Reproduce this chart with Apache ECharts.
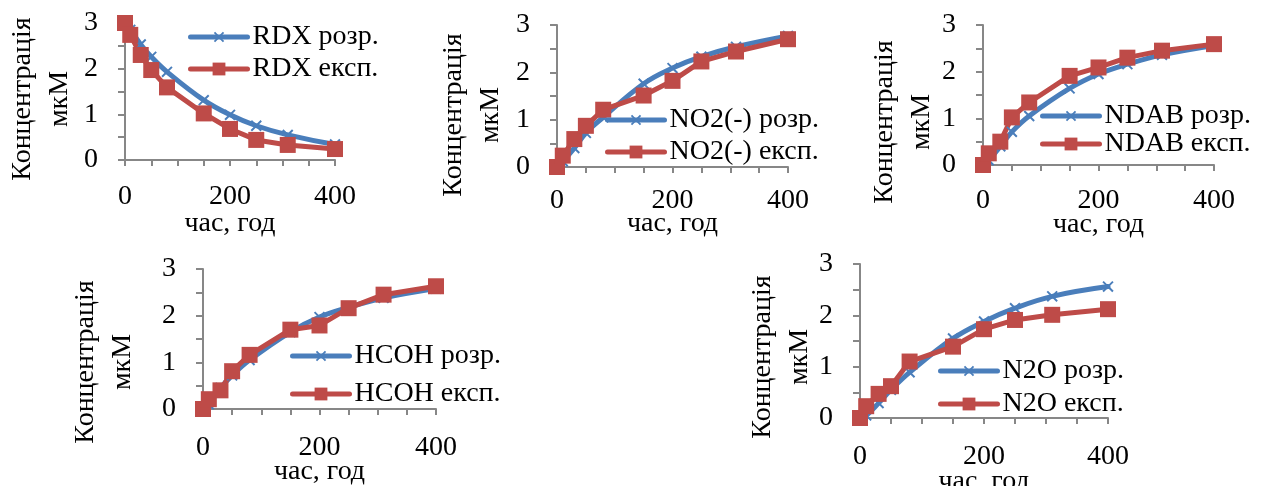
<!DOCTYPE html>
<html>
<head>
<meta charset="utf-8">
<script src="https://cdn.jsdelivr.net/npm/echarts@6/dist/echarts.min.js"></script>
<style>
  html, body { margin: 0; padding: 0; background: #fff; }
  #main { width: 1267px; height: 486px; }
</style>
</head>
<body>
<div id="main"></div>
<script>
// час відбору проб, год (спільний для всіх графіків)
var hours = [0, 10, 30, 50, 80, 150, 200, 250, 310, 400];

// розрахункові та експериментальні концентрації, мкМ
var rdxCalc  = [3.0, 2.85, 2.53, 2.26, 1.93, 1.31, 0.99, 0.75, 0.55, 0.34];
var rdxExp   = [3.0, 2.74, 2.30, 1.97, 1.59, 1.02, 0.68, 0.44, 0.33, 0.24];
var no2Calc  = [0, 0.12, 0.40, 0.72, 1.05, 1.76, 2.09, 2.33, 2.54, 2.77];
var no2Exp   = [0, 0.24, 0.59, 0.87, 1.21, 1.51, 1.82, 2.23, 2.44, 2.70];
var ndabCalc = [0, 0.10, 0.40, 0.71, 1.05, 1.64, 1.95, 2.16, 2.36, 2.56];
var ndabExp  = [0, 0.25, 0.50, 1.02, 1.34, 1.91, 2.09, 2.30, 2.45, 2.59];
var hcohCalc = [0, 0.10, 0.45, 0.72, 1.05, 1.65, 1.97, 2.18, 2.38, 2.58];
var hcohExp  = [0, 0.21, 0.40, 0.81, 1.16, 1.70, 1.79, 2.16, 2.45, 2.63];
var n2oCalc  = [0, 0.05, 0.29, 0.55, 0.89, 1.55, 1.88, 2.14, 2.37, 2.56];
var n2oExp   = [0, 0.23, 0.47, 0.62, 1.10, 1.39, 1.73, 1.91, 2.01, 2.12];

var xTicks = [0, 200, 400];
var yTicks = [0, 1, 2, 3];

var FONT = 'Liberation Serif';
var BLUE = '#4a7ebb';
var RED = '#be4b48';
var AXIS = '#878787';

// розміщення п'яти графіків
var panels = [
  {calc: rdxCalc,  exp: rdxExp,  label: 'RDX',    grid: [125, 23, 210, 137], lab: 23, gap: 50, legend: [188, 23, 4],  yName: [41, 99]},
  {calc: no2Calc,  exp: no2Exp,  label: 'NO2(-)', grid: [557, 25, 231, 142], lab: 20, gap: 43, legend: [605, 106, 4], yName: [472, 115]},
  {calc: ndabCalc, exp: ndabExp, label: 'NDAB',   grid: [983, 25, 231, 140], lab: 22, gap: 46, legend: [1040, 102, 0], yName: [903, 122]},
  {calc: hcohCalc, exp: hcohExp, label: 'HCOH',   grid: [203, 269, 233, 140], lab: 25, gap: 49, legend: [290, 342, 10], yName: [104, 362]},
  {calc: n2oCalc,  exp: n2oExp,  label: 'N2O',    grid: [860, 264, 248, 154], lab: 25, gap: 50, legend: [938, 357, 5], yName: [781, 357]}
];

function pairs(vals) {
  return hours.map(function (h, i) { return [h, vals[i]]; });
}

var crossPath = 'path://M4.3,0H5.7V4.3H10V5.7H5.7V10H4.3V5.7H0V4.3H4.3Z';

var myChart = echarts.init(document.getElementById('main'));

var grids = [], xAxes = [], yAxes = [], series = [], legends = [], graphics = [];

panels.forEach(function (p, i) {
  grids.push({
    left: p.grid[0], top: p.grid[1], width: p.grid[2], height: p.grid[3],
    containLabel: false, outerBoundsMode: 'none'
  });
  xAxes.push({
    gridIndex: i, type: 'value', min: 0, max: 400, interval: 50,
    name: 'час, год', nameLocation: 'middle', nameGap: p.gap, nameMoveOverlap: false,
    nameTextStyle: {fontFamily: FONT, fontSize: 28, color: '#000'},
    axisLine: {onZero: false, lineStyle: {color: AXIS, width: 2}},
    axisTick: {length: 6, lineStyle: {color: AXIS, width: 2}},
    axisLabel: {
      margin: p.lab, fontFamily: FONT, fontSize: 28, color: '#000',
      formatter: function (v) { return xTicks.indexOf(v) >= 0 ? String(v) : ''; }
    },
    splitLine: {show: false}
  });
  yAxes.push({
    gridIndex: i, type: 'value', min: 0, max: 3, interval: 0.5,
    axisLine: {show: true, lineStyle: {color: AXIS, width: 2}},
    axisTick: {show: true, length: 7, lineStyle: {color: AXIS, width: 2}},
    axisLabel: {
      margin: 27, fontFamily: FONT, fontSize: 28, color: '#000',
      formatter: function (v) { return yTicks.indexOf(v) >= 0 ? String(v) : ''; }
    },
    splitLine: {show: false}
  });
  var nCalc = p.label + ' розр.';
  var nExp = p.label + ' експ.';
  series.push({
    name: nCalc, type: 'line', xAxisIndex: i, yAxisIndex: i,
    data: pairs(p.calc), smooth: 0.4,
    symbol: crossPath, symbolSize: 14, symbolRotate: 45,
    lineStyle: {color: BLUE, width: 5, cap: 'round'},
    itemStyle: {color: BLUE},
    emphasis: {disabled: true}
  });
  series.push({
    name: nExp, type: 'line', xAxisIndex: i, yAxisIndex: i,
    data: pairs(p.exp),
    symbol: 'rect', symbolSize: 16,
    lineStyle: {color: RED, width: 5, cap: 'round'},
    itemStyle: {color: RED},
    emphasis: {disabled: true}
  });
  legends.push({
    data: [nCalc, nExp], orient: 'vertical',
    left: p.legend[0], top: p.legend[1], itemGap: p.legend[2],
    itemWidth: 57, itemHeight: 16, padding: 0, selectedMode: false,
    lineStyle: {width: 5, cap: 'round'},
    textStyle: {fontFamily: FONT, fontSize: 28, color: '#000', lineHeight: 28}
  });
  graphics.push({
    type: 'text', x: p.yName[0], y: p.yName[1], rotation: Math.PI / 2,
    style: {
      text: 'Концентрація\nмкМ', font: '28px "Liberation Serif"',
      textAlign: 'center', textVerticalAlign: 'middle', lineHeight: 37, fill: '#000'
    }
  });
});

var option = {
  animation: false,
  grid: grids,
  xAxis: xAxes,
  yAxis: yAxes,
  legend: legends,
  series: series,
  graphic: graphics
};

myChart.setOption(option);
</script>
</body>
</html>
